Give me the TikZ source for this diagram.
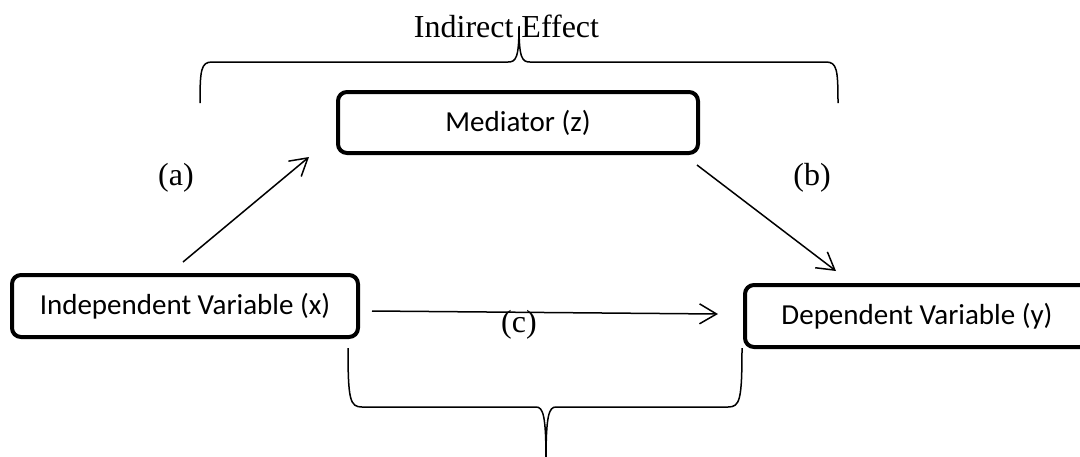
\documentclass[tikz,border=0pt]{standalone}
\usepackage{fontspec}
\setmainfont{Liberation Serif}
\newfontfamily\calib{Carlito}
\usetikzlibrary{arrows.meta}
\begin{document}
\begin{tikzpicture}[x=1pt,y=-1pt,
  box/.style={draw, line width=4pt, rounded corners=9pt, inner sep=0pt, font=\calib\fontsize{29}{34}\selectfont},
  conn/.style={line width=1.5pt, -{Straight Barb[length=17pt,width=20pt,line width=1.5pt]}},
  lbl/.style={font=\fontsize{32}{38}\selectfont, inner sep=0pt, anchor=base},
  bracepath/.style={line width=1.5pt}]
\useasboundingbox (0,0) rectangle (1080,456);

% boxes
\node[box, minimum width=360pt, minimum height=61pt] (med) at (518,122.5) {Mediator (z)};
\node[box, minimum width=346pt, minimum height=62pt] (ind) at (185,306) {Independent Variable (x)};
\node[box, minimum width=344pt, minimum height=62pt] (dep) at (917,316) {Dependent Variable (y)};

% labels
\node[lbl] (ie) at (506.5,37) {Indirect Effect};
\node[lbl] (la) at (176,185) {(a)};
\node[lbl] (lb) at (812,185) {(b)};
\node[lbl] (lc) at (519,332) {(c)};

% connector end points
\coordinate (a0) at (183,262);
\coordinate (a1) at (309,157);
\coordinate (b0) at (697,165);
\coordinate (b1) at (836,271);
\coordinate (c0) at (372,311);
\coordinate (c1) at (718,314);

\draw[conn] (a0) -- (a1);
\draw[conn] (b0) -- (b1);
\draw[conn] (c0) -- (c1);

% top brace
\coordinate (tl) at (200,103);
\coordinate (tr) at (838,103);
\coordinate (tt) at (519,26);
\draw[bracepath] (tl) .. controls (200,70) and (201,62) .. (212,62) -- (508,62)
  .. controls (516,62) and (519,58) .. (tt)
  .. controls (519,58) and (522,62) .. (530,62) -- (826,62)
  .. controls (837,62) and (838,70) .. (tr);

% bottom brace
\coordinate (bl) at (348,348);
\coordinate (br) at (742,348);
\coordinate (bt) at (546,460);
\draw[bracepath] (bl) .. controls (348,400) and (350,407) .. (362,407) -- (536,407)
  .. controls (543,407) and (546,415) .. (bt);
\draw[bracepath] (br) .. controls (742,400) and (740,407) .. (728,407) -- (556,407)
  .. controls (549,407) and (546,415) .. (bt);
\end{tikzpicture}
\end{document}
